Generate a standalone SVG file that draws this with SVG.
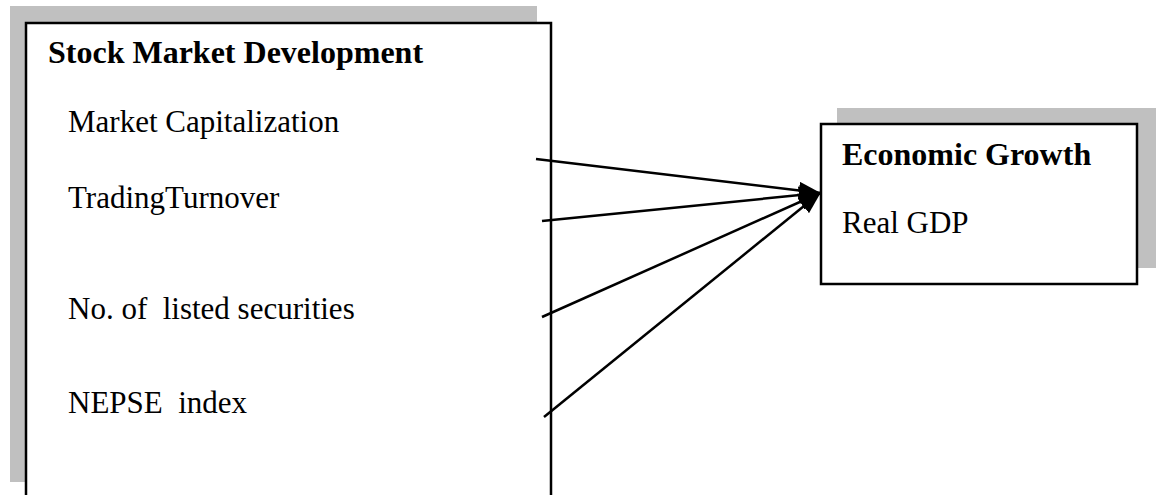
<svg xmlns="http://www.w3.org/2000/svg" width="1158" height="495" viewBox="0 0 1158 495">
  <style>
    .shadow { fill: #c0c0c0; }
    .box { fill: #ffffff; stroke: #000000; stroke-width: 2.5; }
    .title { font-family: "Liberation Serif", "Times New Roman", serif; font-weight: bold; font-size: 32px; fill: #000; }
    .item { font-family: "Liberation Serif", "Times New Roman", serif; font-size: 31px; fill: #000; white-space: pre; }
    .conn { stroke: #000; stroke-width: 2.5; fill: none; marker-end: url(#arrow); }
  </style>
  <defs>
    <marker id="arrow" markerWidth="9" markerHeight="7" refX="8.5" refY="3.5" orient="auto" markerUnits="strokeWidth">
      <path d="M0,0 L9,3.5 L0,7 Z" fill="#000"/>
    </marker>
  </defs>
  <rect width="1158" height="495" fill="#ffffff"/>
  <g id="stock-market-development">
    <rect class="shadow" x="10" y="6" width="527" height="476"/>
    <rect class="box" x="26" y="23" width="525" height="490"/>
    <text class="title" x="48" y="63">Stock Market Development</text>
    <text class="item" x="68" y="132">Market Capitalization</text>
    <text class="item" x="68" y="208">TradingTurnover</text>
    <text class="item" x="68" y="319" xml:space="preserve">No. of  listed securities</text>
    <text class="item" x="68" y="413" xml:space="preserve">NEPSE  index</text>
  </g>
  <g id="economic-growth">
    <rect class="shadow" x="837" y="108" width="319" height="160"/>
    <rect class="box" x="821" y="124" width="316" height="160"/>
    <text class="title" x="842" y="165">Economic Growth</text>
    <text class="item" x="842" y="233">Real GDP</text>
  </g>
  <g id="connectors">
    <line class="conn" x1="536" y1="159" x2="820" y2="193"/>
    <line class="conn" x1="542" y1="221" x2="820" y2="193"/>
    <line class="conn" x1="542" y1="317" x2="820" y2="193"/>
    <line class="conn" x1="544" y1="417" x2="820" y2="193"/>
  </g>
</svg>
